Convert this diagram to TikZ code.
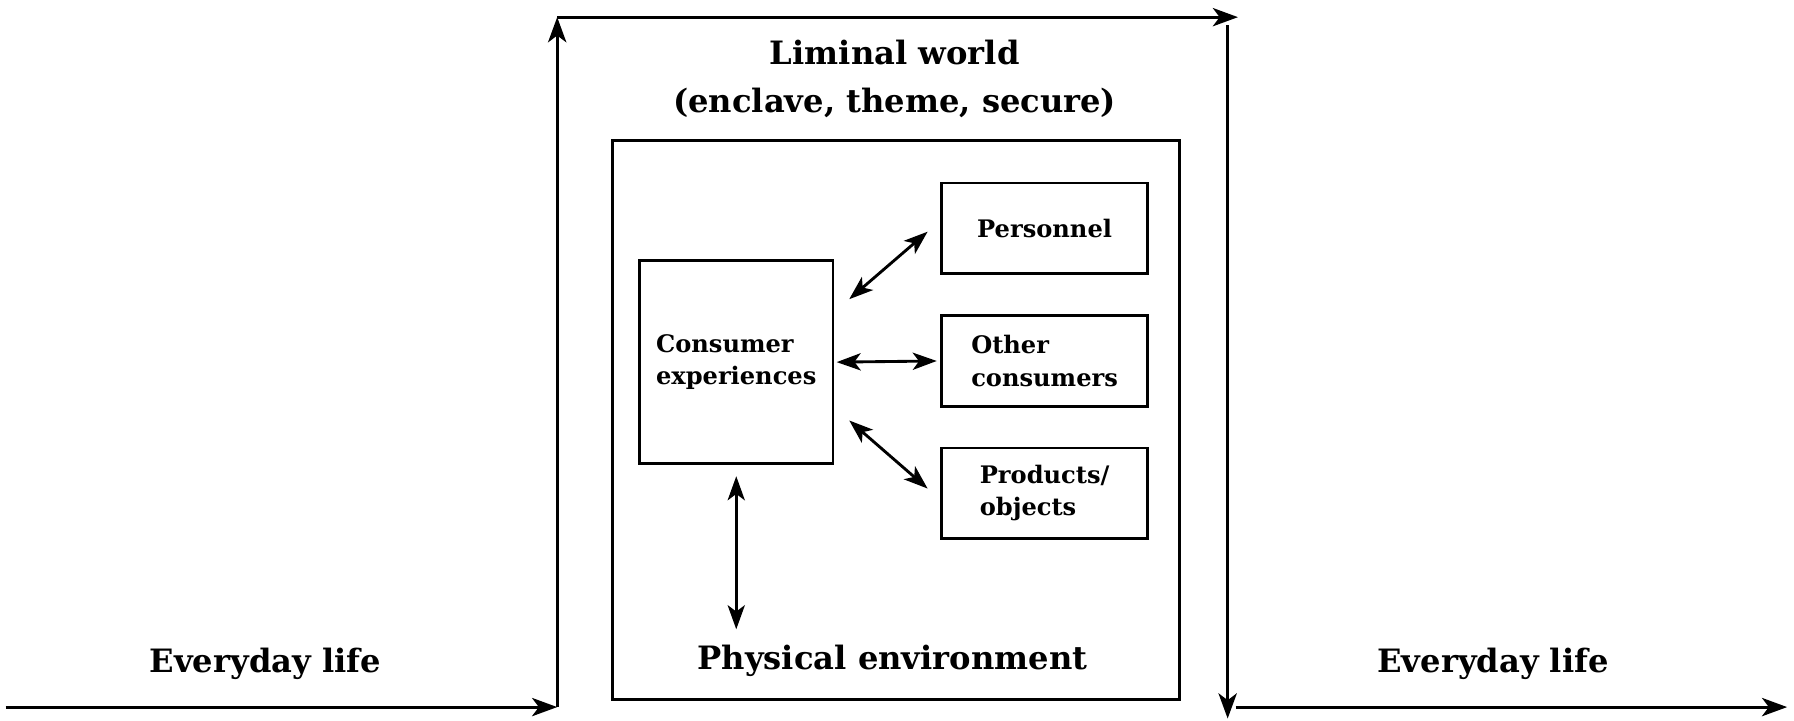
\documentclass[tikz,border=0pt]{standalone}
\usepackage{fontspec}
\setmainfont{DejaVu Serif}
\usetikzlibrary{arrows.meta}
\begin{document}
\begin{tikzpicture}[
                x = 0.2mm, y = -0.2mm,
                box/.style = {draw, line width = 0.5mm, inner sep = 0mm},
                big/.style = {font = \fontsize{16}{24}\selectfont\bfseries, align = center},
                small/.style = {font = \fontsize{12}{16}\selectfont\bfseries, align = left},
                arr/.style = {draw, line width = 0.5mm, -{Stealth[length = 4.4mm, width = 3.2mm, inset = 1.2mm]}},
                darr/.style = {draw, line width = 0.5mm, {Stealth[length = 4.2mm, width = 3mm, inset = 1.1mm]}-{Stealth[length = 4.2mm, width = 3mm, inset = 1.1mm]}},
            ]
            \useasboundingbox (0,0) rectangle (1568,630);

            \node (env) [box, minimum width = 99.2mm, minimum height = 97.6mm] at (783,367){};
            \node (cons) [box, small, minimum width = 33.8mm, minimum height = 35.4mm] at (643.5,316.5){Consumer\\experiences};
            \node (pers) [box, small, minimum width = 36mm, minimum height = 15.8mm] at (913,199.5){Personnel};
            \node (other) [box, small, minimum width = 36mm, minimum height = 15.8mm] at (913,315.5){Other\\consumers};
            \node (prod) [box, small, minimum width = 36mm, minimum height = 15.8mm] at (913,431){Products/\\objects};

            \node (liminal) [big] at (782,69){Liminal world\\(enclave, theme, secure)};
            \node (envlabel) [big] at (780,578){Physical environment};
            \node (lifeL) [big] at (232,580){Everyday life};
            \node (lifeR) [big] at (1305,580){Everyday life};

            \coordinate (start) at (5,618);
            \coordinate (inlow) at (487,618);
            \coordinate (inhigh) at (487,15);
            \coordinate (outhigh) at (1073,15);
            \coordinate (outlow) at (1073,618);
            \coordinate (finish) at (1562,618);

            \path[arr] (start) -- (inlow);
            \path[arr] (inlow) -- (inhigh);
            \path[arr] (inhigh) -- ([shift={(9,0)}]outhigh);
            \path[arr] ([shift={(0,7)}]outhigh) -- ([shift={(0,10)}]outlow);
            \path[arr] ([shift={(7,0)}]outlow) -- (finish);

            \path[darr] ([shift={(13,-55)}]cons.east) -- ([shift={(-11,3)}]pers.west);
            \path[darr] ([shift={(2,0)}]cons.east) -- ([shift={(-3,0)}]other.west);
            \path[darr] ([shift={(13,51)}]cons.east) -- ([shift={(-11,-4)}]prod.west);
            \path[darr] ([shift={(0,10)}]cons.south) -- ([shift={(0,-8)}]cons.south |- envlabel.north);
        \end{tikzpicture}
\end{document}
